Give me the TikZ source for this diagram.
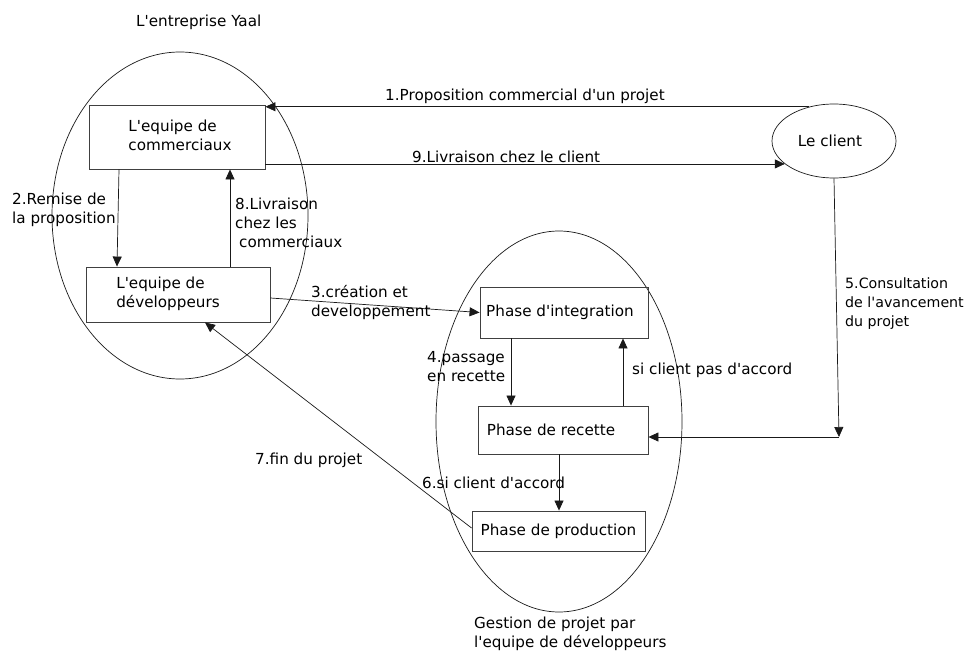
\documentclass[tikz,border=0pt]{standalone}
\usepackage{fontspec}
\setmainfont{DejaVu Sans}[Ligatures=TeXOff]
\usetikzlibrary{shapes.geometric,arrows.meta}
\tikzset{
  box/.style={draw=black!75, line width=0.9pt, rectangle, inner sep=0pt},
  oval/.style={draw=black!90, line width=0.7pt, ellipse, inner sep=0pt},
  lbl/.style={inner sep=0pt, align=left, anchor=west},
  arr/.style={draw=black!90, line width=0.7pt, -{Triangle[length=10pt,width=9pt]}}
}
\begin{document}
\begin{tikzpicture}[x=1pt,y=-1pt,font=\fontsize{15.2}{19}\selectfont]
\useasboundingbox (0,0) rectangle (970,653);
% enclosing ellipses
\node[oval, minimum width=256, minimum height=327] (e1) at (180,215.5) {};
\node[oval, minimum width=246, minimum height=381] (e2) at (559,421.5) {};
\node[oval, minimum width=124, minimum height=74] (client) at (834,141) {\hspace{-8pt}Le client};
% boxes
\node[box, minimum width=176, minimum height=64] (com) at (177,137) {\hspace{6pt}\begin{tabular}{@{}l@{}}L'equipe de\\commerciaux\end{tabular}};
\node[box, minimum width=184, minimum height=55] (dev) at (178,294.5) {\hspace{-20pt}\begin{tabular}{@{}l@{}}L'equipe de\\développeurs\end{tabular}};
\node[box, minimum width=168, minimum height=51] (int) at (564,312.5) {\hspace{-8pt}Phase d'integration};
\node[box, minimum width=170, minimum height=48] (rec) at (563,430) {\hspace{-24pt}Phase de recette};
\node[box, minimum width=173, minimum height=40] (prod) at (558.5,531) {Phase de production};
% titles
\node[lbl] (t1) at (136,22) {L'entreprise Yaal};
\node[lbl] (t2) at (474,634) {Gestion de projet par\\l'equipe de développeurs};
% connectors
\draw[arr] (client.126) -- (client.126 -| com.east);
\draw[arr] (com.east |- client.205) -- (client.205);
\draw[arr] ([xshift=-58pt]com.south) -- ([xshift=-61pt]dev.north);
\draw[arr] ([xshift=52pt]dev.north) -- ([xshift=53pt]com.south);
\draw[arr] ([yshift=-3.5pt]dev.east) -- (int.west);
\draw[arr] ([xshift=-53pt]int.south) -- ([xshift=-52pt]rec.north);
\draw[arr] ([xshift=60pt]rec.north) -- ([xshift=59pt]int.south);
\draw[arr] ([xshift=-4pt]rec.south) -- ([xshift=0.5pt]prod.north);
\draw[arr] ([yshift=3pt]prod.west) -- ([xshift=27pt]dev.south);
\coordinate (c5) at (839,437);
\draw[arr] (client.south) -- (c5);
\draw[arr] (c5) -- (rec.east |- c5);
% labels
\node[lbl] (l1) at (385,96) {1.Proposition commercial d'un projet};
\node[lbl] (l9) at (412,157) {9.Livraison chez le client};
\node[lbl] (l2) at (12,210) {2.Remise de\\la proposition};
\node[lbl] (l8) at (235,223) {8.Livraison\\chez les\\\hspace{4pt}commerciaux};
\node[lbl] (l3) at (311,302) {3.création et\\developpement};
\node[lbl] (l4) at (427,367) {4.passage\\en recette};
\node[lbl] (ls) at (632,370) {si client pas d'accord};
\node[lbl, font=\fontsize{14.2}{19}\selectfont] (l5) at (845,304) {5.Consultation\\de l'avancement\\du projet};
\node[lbl] (l7) at (255,460) {7.fin du projet};
\node[lbl] (l6) at (422,483) {6.si client d'accord};
\end{tikzpicture}
\end{document}
